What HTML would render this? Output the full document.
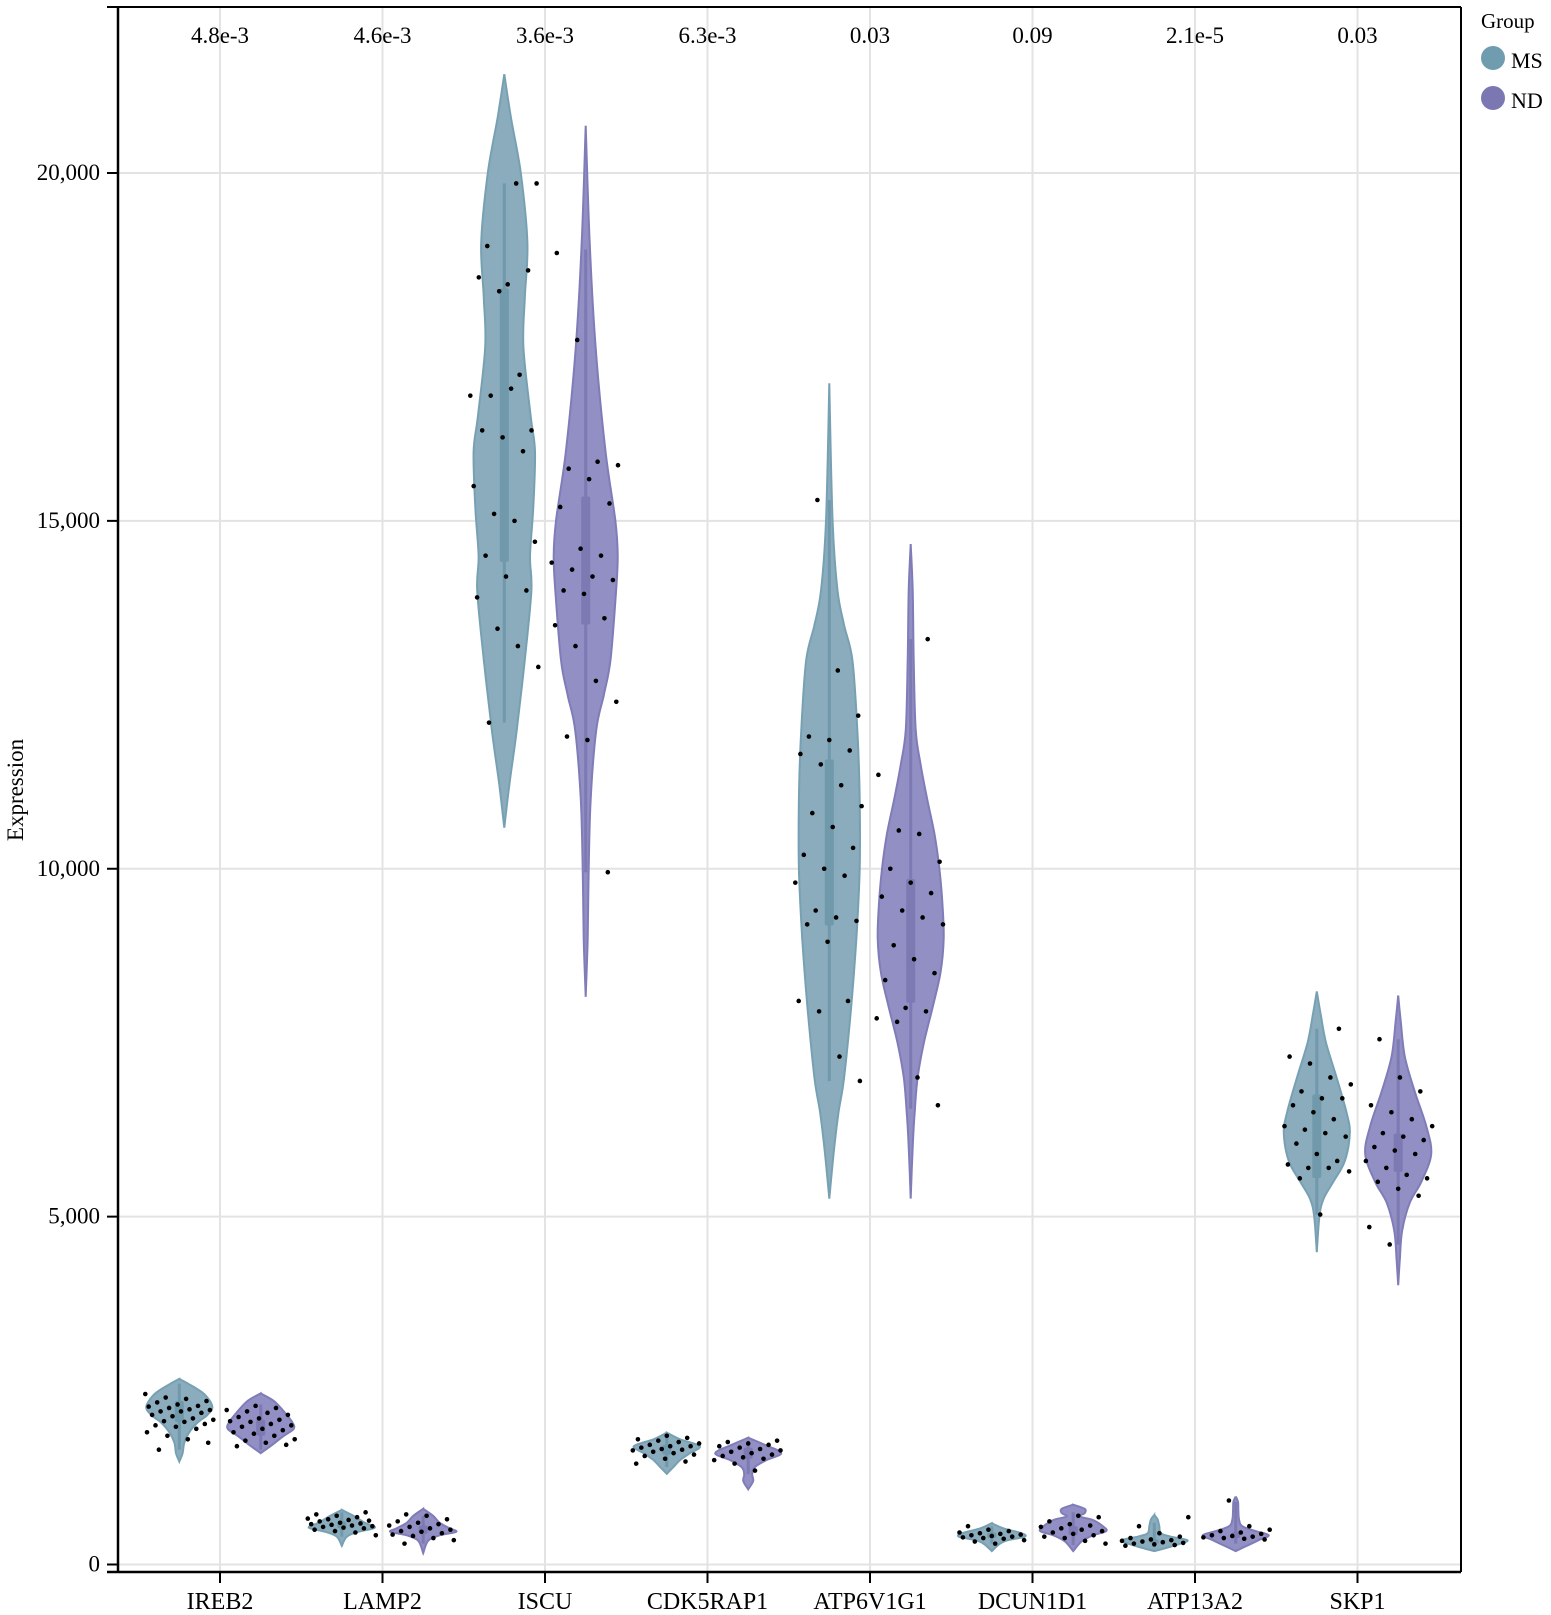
<!DOCTYPE html>
<html><head><meta charset="utf-8"><style>
html,body{margin:0;padding:0;background:#fff;}
svg{display:block;font-family:"Liberation Serif",serif;}
</style></head><body>
<svg id="chart" width="1551" height="1615" viewBox="0 0 1551 1615" xmlns="http://www.w3.org/2000/svg">
<g id="grid"></g>
<g id="violins"></g>
<g id="axes"></g>
<g id="legend">
<text x="1481" y="28" font-size="21">Group</text>
<circle cx="1493" cy="58" r="12" fill="#6f9caf"/>
<text x="1511" y="68" font-size="22">MS</text>
<circle cx="1493" cy="98" r="12" fill="#7b77b3"/>
<text x="1511" y="108" font-size="22">ND</text>
</g>
</svg>
<script>
const categories = ["IREB2","LAMP2","ISCU","CDK5RAP1","ATP6V1G1","DCUN1D1","ATP13A2","SKP1"];
const pvalues = ["4.8e-3","4.6e-3","3.6e-3","6.3e-3","0.03","0.09","2.1e-5","0.03"];
const yTicks = [0,5000,10000,15000,20000];
const yTickLabels = ["0","5,000","10,000","15,000","20,000"];

// density profiles: [value, relative density]
const msProfiles = [
 [[2667,0],[2590,0.3],[2450,0.75],[2270,1],[2150,0.85],[2040,0.55],[1900,0.3],[1750,0.15],[1600,0.1],[1481,0]],
 [[785,0],[700,0.35],[600,0.7],[530,1],[470,0.5],[400,0.15],[267,0]],
 [[21420,0],[20800,0.2],[20000,0.5],[19000,0.7],[18200,0.62],[17500,0.58],[16500,0.8],[16000,0.93],[15200,0.88],[14500,0.78],[14000,0.82],[13000,0.62],[12000,0.38],[11200,0.15],[10590,0]],
 [[1896,0],[1800,0.4],[1700,1],[1600,0.7],[1500,0.4],[1400,0.2],[1304,0]],
 [[16978,0],[15000,0.1],[14000,0.25],[13500,0.45],[13000,0.7],[12000,0.85],[11000,0.92],[10000,0.92],[9000,0.82],[8000,0.66],[7000,0.45],[6500,0.28],[6000,0.15],[5259,0]],
 [[593,0],[520,0.35],[450,0.9],[400,1],[350,0.5],[300,0.25],[193,0]],
 [[711,0],[650,0.1],[550,0.15],[450,0.2],[400,0.5],[350,1],[300,0.8],[230,0.3],[193,0]],
 [[8237,0],[7900,0.12],[7500,0.28],[7000,0.6],[6500,0.9],[6200,1],[5800,0.85],[5500,0.5],[5250,0.2],[5000,0.08],[4489,0]]
];
const ndProfiles = [
 [[2459,0],[2350,0.4],[2200,0.7],[2050,0.95],[1950,1],[1850,0.7],[1720,0.35],[1600,0]],
 [[800,0],[700,0.3],[600,0.5],[520,0.8],[470,1],[420,0.5],[340,0.15],[163,0]],
 [[20680,0],[19000,0.12],[17500,0.3],[16000,0.6],[15000,0.9],[14500,0.97],[14000,0.92],[13000,0.75],[12500,0.55],[12000,0.32],[11000,0.15],[10000,0.09],[9000,0.06],[8160,0]],
 [[1822,0],[1720,0.5],[1600,1],[1500,0.55],[1400,0.2],[1300,0.12],[1200,0.15],[1081,0]],
 [[14667,0],[14000,0.06],[13000,0.09],[12000,0.15],[11500,0.3],[11000,0.5],[10500,0.72],[10000,0.87],[9500,0.96],[9000,1],[8500,0.9],[8000,0.66],[7500,0.4],[7000,0.21],[6500,0.12],[6000,0.06],[5259,0]],
 [[860,0],[800,0.35],[740,0.35],[690,0.2],[640,0.6],[550,0.9],[480,1],[420,0.6],[330,0.25],[193,0]],
 [[978,0],[900,0.07],[800,0.08],[650,0.1],[550,0.2],[480,0.6],[420,1],[350,0.7],[260,0.3],[193,0]],
 [[8178,0],[7800,0.08],[7300,0.2],[6800,0.5],[6300,0.85],[5900,1],[5500,0.7],[5200,0.35],[4800,0.12],[4400,0.05],[4015,0]]
];
// box stats: [whiskerLow, q1, median, q3, whiskerHigh]
const msBoxes = [[1650,2050,2180,2350,2600],[400,520,560,620,750],[12100,14410,16000,18340,19850],[1400,1580,1650,1720,1850],[6950,9185,10300,11570,15300],[300,380,420,460,550],[250,300,330,360,600],[5030,5556,6200,6756,7700]];
const ndBoxes = [[1650,1850,1950,2080,2300],[300,440,500,560,700],[9950,13510,14200,15350,18900],[1300,1520,1600,1680,1780],[6550,8074,8800,9852,13300],[280,420,480,550,750],[300,380,420,460,900],[4600,5644,5900,6193,7550]];
const msPoints = [
 [2450,2400,2380,2350,2330,2300,2280,2270,2250,2230,2220,2200,2200,2180,2150,2130,2100,2080,2060,2050,2020,2000,1980,1950,1900,1850,1800,1750,1650],
 [750,720,700,680,660,650,640,630,620,600,590,580,570,560,550,540,530,520,500,480,460,420],
 [19850,19850,18950,18400,18600,18500,18300,17100,16800,16800,16900,16300,16300,16200,16000,15500,15100,15000,14700,14500,14200,14000,13900,13450,13200,12900,12100],
 [1850,1820,1800,1780,1760,1740,1720,1700,1700,1680,1660,1650,1640,1620,1600,1580,1560,1520,1480,1450],
 [15300,12850,12200,11900,11850,11700,11650,11500,11200,10900,10800,10600,10300,10200,10000,9900,9800,9400,9300,9250,9200,8950,8100,8100,7950,7300,6950],
 [550,500,480,460,450,440,430,420,410,400,390,380,370,350,330,300],
 [680,550,450,400,380,360,350,340,330,320,310,300,290,280,270],
 [7700,7300,7200,7000,6900,6800,6700,6700,6600,6500,6400,6300,6250,6200,6150,6050,5900,5800,5750,5700,5700,5650,5550,5030]
];
const ndPoints = [
 [2280,2250,2220,2200,2180,2150,2120,2100,2080,2060,2050,2020,2000,1980,1950,1930,1900,1880,1850,1800,1780,1750,1720,1700],
 [720,700,650,620,600,580,560,540,520,500,480,470,450,430,410,380,350,300],
 [18850,17600,15850,15800,15750,15600,15250,15200,14600,14500,14400,14300,14200,14150,14000,13950,13600,13500,13200,12700,12400,11900,11850,9950],
 [1780,1760,1740,1720,1700,1680,1660,1640,1620,1600,1580,1560,1540,1520,1500,1450,1350],
 [13300,11350,10550,10500,10100,10000,9800,9650,9600,9400,9300,9200,8900,8700,8500,8400,8000,7950,7850,7800,7000,6600],
 [700,680,620,580,560,540,520,500,480,460,440,420,400,380,340,300],
 [920,550,500,480,460,440,420,410,400,390,380,370,360],
 [7550,7000,6800,6600,6500,6400,6300,6200,6150,6100,6000,5950,5900,5800,5700,5600,5550,5500,5400,5300,4850,4600]
];

const NS = "http://www.w3.org/2000/svg";
const L = 118, R = 1461, T = 7, B = 1572;
const y0px = 1564.5, ypx20k = 173;
function yScale(v){ return y0px - (v/20000)*(y0px - ypx20k); }
function xScale(i){ return 220 + i*162.5; }
const OFF = 40.7, HALF = 33;
function mk(tag, attrs, parent){ const e=document.createElementNS(NS,tag); for(const k in attrs) e.setAttribute(k,attrs[k]); parent.appendChild(e); return e; }

const grid = document.getElementById('grid');
const axes = document.getElementById('axes');
const vg = document.getElementById('violins');

yTicks.forEach((t,i)=>{
  const l = mk('line',{x1:L,x2:R,y1:yScale(t),y2:yScale(t),stroke:'#e3e3e3','stroke-width':2},grid);
  
  
  const tk = mk('line',{x1:L-11,x2:L,y1:yScale(t),y2:yScale(t),stroke:'#000','stroke-width':2},axes);
  
  
  const tx = mk('text',{x:L-18,y:yScale(t)+7,'text-anchor':'end','font-size':23},axes);
  tx.textContent = yTickLabels[i];
  
  
});
categories.forEach((c,i)=>{
  const x = xScale(i);
  const l = mk('line',{x1:x,x2:x,y1:T,y2:B,stroke:'#e3e3e3','stroke-width':2},grid);
  
  
  const tk = mk('line',{x1:x,x2:x,y1:B,y2:B+11,stroke:'#000','stroke-width':2},axes);
  
  
  const tx = mk('text',{x:x,y:1609,'text-anchor':'middle','font-size':24},axes);
  tx.textContent = c;
  
  
  const pv = mk('text',{x:x,y:43,'text-anchor':'middle','font-size':23},axes);
  pv.textContent = pvalues[i];
  
  
});
let a = mk('line',{x1:L,x2:L,y1:T,y2:B,stroke:'#000','stroke-width':2.5},axes);


a = mk('line',{x1:L-11,x2:R,y1:B,y2:B,stroke:'#000','stroke-width':2.5},axes);


a = mk('line',{x1:L-11,x2:R,y1:T,y2:T,stroke:'#000','stroke-width':2},axes);


a = mk('line',{x1:R,x2:R,y1:T,y2:B,stroke:'#000','stroke-width':2},axes);


const yt = mk('text',{x:0,y:0,'text-anchor':'middle','font-size':23,transform:'translate(23,790) rotate(-90)'},axes);
yt.textContent = 'Expression';



function smoothPath(pts){
  let d = '';
  for(let i=0;i<pts.length-1;i++){
    const p0=pts[Math.max(0,i-1)], p1=pts[i], p2=pts[i+1], p3=pts[Math.min(pts.length-1,i+2)];
    const c1x=p1[0]+(p2[0]-p0[0])/6, c1y=p1[1]+(p2[1]-p0[1])/6;
    const c2x=p2[0]-(p3[0]-p1[0])/6, c2y=p2[1]-(p3[1]-p1[1])/6;
    d += ` C${c1x.toFixed(1)},${c1y.toFixed(1)} ${c2x.toFixed(1)},${c2y.toFixed(1)} ${p2[0].toFixed(1)},${p2[1].toFixed(1)}`;
  }
  return d;
}
function drawViolin(cx, prof, box, pts, fill, stroke, dark, name, k){
  const right = prof.map(p=>[cx+p[1]*HALF, yScale(p[0])]);
  const left = prof.slice().reverse().map(p=>[cx-p[1]*HALF, yScale(p[0])]);
  const d = `M${right[0][0]},${right[0][1]}` + smoothPath(right) + smoothPath([right[right.length-1]].concat(left.slice(1))) + 'Z';
  const v = mk('path',{d:d,fill:fill,stroke:stroke,'stroke-width':2},vg);
  
  
  const w = mk('line',{x1:cx,x2:cx,y1:yScale(box[0]),y2:yScale(box[4]),stroke:dark,'stroke-width':3},vg);
  
  
  const b = mk('rect',{x:cx-4.5,y:yScale(box[3]),width:9,height:yScale(box[1])-yScale(box[3]),fill:dark,rx:2},vg);
  
  
  pts.forEach((val,i)=>{
    const jit = (((i*53 + k*17) % 41) - 20)/20 * 34;
    const c = mk('circle',{cx:cx+jit,cy:yScale(val),r:2.3,fill:'#000'},vg);
    
    
  });
}
categories.forEach((c,i)=>{
  const x = xScale(i);
  drawViolin(x-OFF, msProfiles[i], msBoxes[i], msPoints[i], '#8aacbd', '#77a1b3', '#7099ab', c.toLowerCase()+'-ms', i*2);
  drawViolin(x+OFF, ndProfiles[i], ndBoxes[i], ndPoints[i], '#918fc4', '#807cb8', '#7d79b3', c.toLowerCase()+'-nd', i*2+1);
});
</script>
</body></html>
